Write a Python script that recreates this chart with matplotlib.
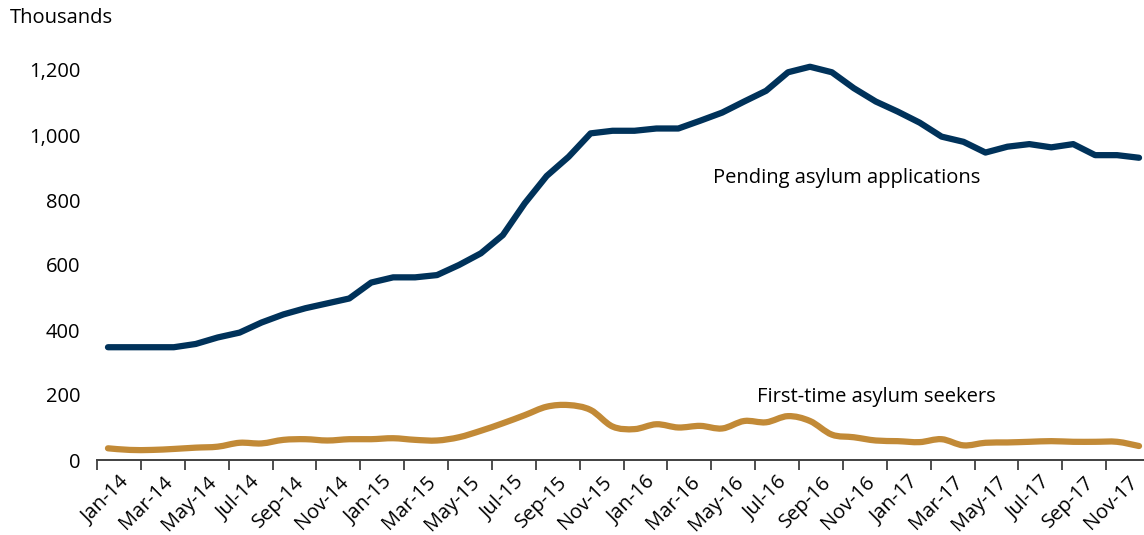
import matplotlib
matplotlib.use("Agg")
import matplotlib.pyplot as plt
import numpy as np
from matplotlib.path import Path
from matplotlib.patches import PathPatch
from matplotlib.transforms import ScaledTranslation

plt.rcParams['font.family'] = ['Open Sans', 'DejaVu Sans']

months = ['Jan', 'Feb', 'Mar', 'Apr', 'May', 'Jun',
          'Jul', 'Aug', 'Sep', 'Oct', 'Nov', 'Dec']
years = ['14', '15', '16', '17']
categories = [m + '-' + y for y in years for m in months]

# thousands
pending = [347, 347, 347, 347, 357, 377, 392, 423, 448, 467, 482, 497,
           546, 562, 562, 569, 600, 636, 692, 790, 874, 933, 1005, 1013,
           1013, 1020, 1020, 1044, 1069, 1103, 1136, 1193, 1210, 1193, 1144, 1103,
           1072, 1038, 995, 979, 946, 964, 972, 962, 972, 938, 938, 930]
first_time = [36, 31, 31, 34, 38, 41, 53, 51, 62, 64, 60, 64,
              64, 67, 62, 60, 70, 90, 113, 138, 164, 169, 154, 103,
              95, 110, 100, 105, 97, 120, 116, 135, 120, 78, 70, 60,
              58, 55, 64, 45, 53, 54, 56, 58, 56, 56, 56, 43]

navy = '#00325A'
gold = '#C28A37'
axis_grey = '#404040'


def smooth_path(xs, ys):
    # Catmull-Rom style Bezier through the points (like Excel's smoothed line)
    pts = np.column_stack([xs, ys]).astype(float)
    ext = np.vstack([pts[0], pts, pts[-1]])
    verts = [pts[0]]
    codes = [Path.MOVETO]
    for i in range(len(pts) - 1):
        p0, p1, p2, p3 = ext[i], ext[i + 1], ext[i + 2], ext[i + 3]
        verts += [p1 + (p2 - p0) / 6, p2 - (p3 - p1) / 6, p2]
        codes += [Path.CURVE4] * 3
    return Path(verts, codes)


fig = plt.figure(figsize=(11.44, 5.35), dpi=100)
ax = fig.add_axes([97 / 1144, 75 / 535, 1053 / 1144, 390 / 535])

x = np.arange(len(categories))
ax.plot(x, pending, color=navy, lw=4.5, solid_capstyle='round',
        solid_joinstyle='round', clip_on=False)
ax.add_patch(PathPatch(smooth_path(x, first_time), fill=False, edgecolor=gold,
                       lw=4.5, capstyle='round', joinstyle='round', clip_on=False))

ax.set_xlim(-0.5, len(categories) - 0.5)
ax.set_ylim(0, 1200)

for s in ['top', 'right', 'left']:
    ax.spines[s].set_visible(False)
ax.spines['bottom'].set_color(axis_grey)
ax.spines['bottom'].set_linewidth(1.4)

ax.set_yticks(np.arange(0, 1201, 200))
ax.set_yticklabels(['{:,}'.format(v) for v in range(0, 1201, 200)])
ax.tick_params(axis='y', length=0, pad=12, labelsize=14.5)

ax.set_xticks(x[::2])
ax.set_xticklabels(categories[::2], rotation=45, ha='right', va='center',
                   rotation_mode='anchor')
ax.tick_params(axis='x', which='major', length=0, pad=14, labelsize=14.5)
ax.set_xticks(np.arange(-0.5, len(categories), 2), minor=True)
ax.tick_params(axis='x', which='minor', length=7.5, width=1.3,
               color=axis_grey, direction='out')
offset = ScaledTranslation(0.18, 0, fig.dpi_scale_trans)
for lab in ax.get_xticklabels():
    lab.set_transform(lab.get_transform() + offset)

ax.text(27.6, 868, 'Pending asylum applications', fontsize=14.5,
        ha='left', va='center')
ax.text(29.6, 195, 'First-time asylum seekers', fontsize=14.5,
        ha='left', va='center')
fig.text(10 / 1144, 1 - 18 / 535, 'Thousands', fontsize=14.5,
         ha='left', va='center')

fig.savefig('out.png', dpi=100)
